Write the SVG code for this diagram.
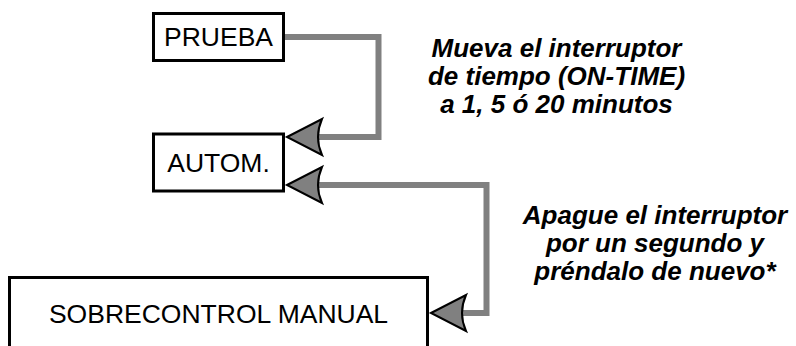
<svg xmlns="http://www.w3.org/2000/svg" width="796" height="346" viewBox="0 0 796 346">
  <style>
    .box { fill: #ffffff; stroke: #000000; stroke-width: 3; }
    .lbl { font-family: "Liberation Sans", Arial, sans-serif; font-size: 26.5px; fill: #000000; text-anchor: middle; }
    .note { font-family: "Liberation Sans", Arial, sans-serif; font-size: 26px; font-weight: bold; font-style: italic; fill: #000000; text-anchor: middle; }
    .conn { fill: none; stroke: #808080; stroke-width: 6; stroke-linejoin: miter; }
    .head { fill: #808080; stroke: #000000; stroke-width: 2; stroke-linejoin: miter; }
  </style>
  <defs>
    <path id="arrowhead" d="M0,0 L35,-18 Q27,0 35,18 Z"/>
  </defs>
  <rect width="796" height="346" fill="#ffffff"/>

  <g id="connectors">
    <path class="conn" d="M284,37 H378.5 V137 H315"/>
    <path class="conn" d="M315,185 H486.5 V313 H458"/>
    <use href="#arrowhead" class="head" transform="translate(287,137)"/>
    <use href="#arrowhead" class="head" transform="translate(287,185)"/>
    <use href="#arrowhead" class="head" transform="translate(431,313)"/>
  </g>

  <g id="node-prueba">
    <rect class="box" x="153.5" y="13.5" width="130" height="47"/>
    <text class="lbl" x="218.5" y="45.5">PRUEBA</text>
  </g>

  <g id="node-autom">
    <rect class="box" x="153.5" y="134" width="130" height="57"/>
    <text class="lbl" x="218.5" y="172">AUTOM.</text>
  </g>

  <g id="node-sobrecontrol">
    <rect class="box" x="9.5" y="277.5" width="418" height="80"/>
    <text class="lbl" x="218.5" y="323">SOBRECONTROL MANUAL</text>
  </g>

  <g id="note-1">
    <text class="note" x="556.5" y="57">Mueva el interruptor</text>
    <text class="note" x="556.5" y="85">de tiempo (ON-TIME)</text>
    <text class="note" x="556.5" y="113">a 1, 5 ó 20 minutos</text>
  </g>

  <g id="note-2">
    <text class="note" x="655" y="224">Apague el interruptor</text>
    <text class="note" x="655" y="252">por un segundo y</text>
    <text class="note" x="655" y="280">préndalo de nuevo*</text>
  </g>
</svg>
